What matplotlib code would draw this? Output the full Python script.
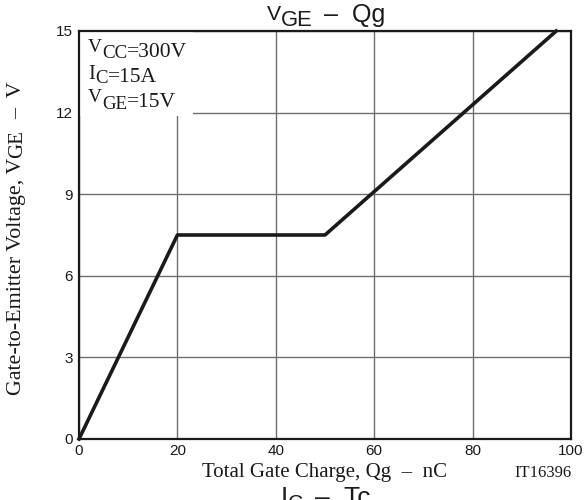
import math
import matplotlib.pyplot as plt
from matplotlib.patches import Rectangle
from matplotlib.transforms import offset_copy

# gate charge curve (nC, V)
qg = [0, 20, 50, 97]
vge = [0, 7.5, 7.5, 15]
xticks = [0, 20, 40, 60, 80, 100]
yticks = [0, 3, 6, 9, 12, 15]

# (text, size scale, baseline shift in em, gap before in em)
conditions = [
    [('V', 0.9, 0.22, 0), ('CC', 0.88, -0.05, 0), ('=300V', 1, 0, 0)],
    [('I', 0.95, 0.12, 0), ('C', 0.88, -0.05, 0), ('=15A', 1, 0, 0)],
    [('V', 0.9, 0.22, 0), ('GE', 0.88, -0.1, 0), ('=15V', 1, 0, 0)],
]
title_parts = [('V', 0.85, 0.1, 0), ('GE', 0.88, -0.15, 0), ('–  Qg', 1, 0, 0.45)]
ylabel_parts = [('Gate-to-Emitter Voltage, V', 1, 0, 0), ('GE', 0.95, -0.06, 0),
                ('–  V', 1, 0, 0.5)]
bottom_parts = [('I', 1, 0, 0), ('C', 0.8, -0.15, 0), ('–  Tc', 1, 0, 0.45)]


# draw text made of pieces with their own size and baseline shift
def rich_text(fig, x, y, parts, transform, size, family, rotation=0, ha='left'):
    r = fig.canvas.get_renderer()
    em = size * fig.dpi / 72.0
    widths = []
    for txt, sc, sh, gap in parts:
        t = fig.text(0, 0, txt, fontsize=size * sc, family=family)
        widths.append(t.get_window_extent(r).width)
        t.remove()
    total = sum(widths) + sum(p[3] * em for p in parts)
    pos = 0 if ha == 'left' else -total / 2.0
    c = math.cos(math.radians(rotation))
    s = math.sin(math.radians(rotation))
    for (txt, sc, sh, gap), w in zip(parts, widths):
        pos += gap * em
        dx = pos * c - sh * em * s
        dy = pos * s + sh * em * c
        tr = offset_copy(transform, fig=fig, x=dx, y=dy, units='dots')
        fig.text(x, y, txt, transform=tr, fontsize=size * sc, family=family,
                 rotation=rotation, rotation_mode='anchor', ha='left',
                 va='baseline', color='#1a1a1a', zorder=5)
        pos += w


fig = plt.figure(figsize=(5.88, 5.0), dpi=100)
ax = fig.add_axes([79/588, 1 - 439/500, 492/588, 408/500])

ax.plot(qg, vge, color='#1a1a1a', linewidth=2.6, zorder=3, clip_on=False)

ax.set_xlim(0, 100)
ax.set_ylim(0, 15)
ax.set_xticks(xticks)
ax.set_yticks(yticks)
ax.tick_params(axis='y', length=0, pad=4.5, labelsize=11, labelcolor='#1a1a1a')
ax.tick_params(axis='x', length=0, pad=3.5, labelsize=11, labelcolor='#1a1a1a')
for lab in ax.get_xticklabels() + ax.get_yticklabels():
    lab.set_family('Liberation Sans')
ax.grid(True, color='#6e6e6e', linewidth=1.0)
for s in ax.spines.values():
    s.set_linewidth(1.6)
    s.set_color('#1a1a1a')

# white box behind the test conditions
ax.add_patch(Rectangle((0, 0.792), 0.232, 0.208, transform=ax.transAxes,
                       facecolor='white', edgecolor='none', zorder=1.6))
for i, parts in enumerate(conditions):
    rich_text(fig, 88/588, 1 - (57 + 25 * i)/500, parts, fig.transFigure,
              15.5, 'Liberation Serif')

rich_text(fig, 326/588, 1 - 22/500, title_parts, fig.transFigure, 18,
          'Liberation Sans', ha='center')
rich_text(fig, 21/588, 1 - 238/500, ylabel_parts, fig.transFigure, 15.8,
          'Liberation Serif', rotation=90, ha='center')
fig.text(202/588, 1 - 477/500, 'Total Gate Charge, Qg  –  nC',
         family='Liberation Serif', fontsize=15, ha='left', va='baseline',
         color='#1a1a1a')
fig.text(572/588, 1 - 477/500, 'IT16396', family='Liberation Serif',
         fontsize=12, ha='right', va='baseline', color='#1a1a1a')
rich_text(fig, 326/588, 1 - 505/500, bottom_parts, fig.transFigure, 19,
          'Liberation Sans', ha='center')

fig.savefig('out.png', dpi=100)
